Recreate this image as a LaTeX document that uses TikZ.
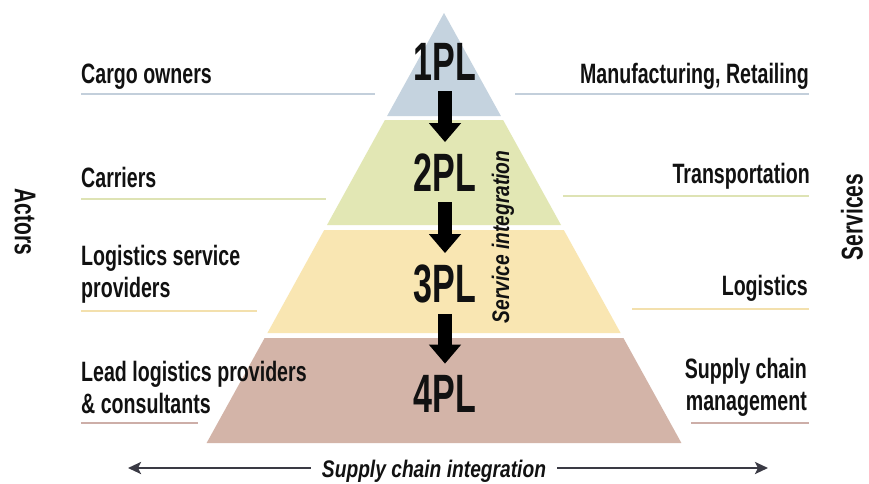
\documentclass[tikz,border=0pt]{standalone}
\usepackage{fontspec}
\setmainfont{Liberation Sans}
\newfontfamily\lblf[FakeStretch=0.70]{Liberation Sans}
\newfontfamily\plf[FakeStretch=0.63]{Liberation Sans}
\newfontfamily\itf[FakeStretch=0.80]{Liberation Sans}
\usetikzlibrary{arrows.meta}
\definecolor{cA}{RGB}{197,211,223}
\definecolor{cB}{RGB}{226,231,180}
\definecolor{cC}{RGB}{249,230,178}
\definecolor{cD}{RGB}{211,180,168}
\definecolor{uA}{RGB}{195,207,219}
\definecolor{uB}{RGB}{222,227,180}
\definecolor{uC}{RGB}{243,224,173}
\definecolor{uD}{RGB}{205,174,168}
\definecolor{ink}{RGB}{17,17,17}
\definecolor{arrgrey}{RGB}{58,58,68}
\tikzset{
  lbl/.style={inner sep=0pt, text=ink, font=\lblf\bfseries\fontsize{28}{32}\selectfont},
  lblL/.style={lbl, anchor=base west, align=left},
  lblR/.style={lbl, anchor=base east, align=right},
  plbl/.style={inner xsep=0pt, inner ysep=11pt, anchor=base, text=ink, font=\plf\bfseries\fontsize{54}{60}\selectfont},
  axis/.style={inner sep=0pt, text=ink, font=\lblf\bfseries\fontsize{30}{34}\selectfont},
  itlbl/.style={inner sep=0pt, text=ink, font=\itf\bfseries\itshape\fontsize{24}{28}\selectfont},
  block/.style={line width=14pt, draw=black, -{Triangle[width=31pt,length=19pt]}},
  intarrow/.style={line width=2.8pt, draw=arrgrey, -{Stealth[length=13pt,width=12pt,inset=3pt]}},
  uline/.style={line width=2.4pt}
}
\begin{document}
\begin{tikzpicture}[x=1pt,y=-1pt]
\useasboundingbox[fill=white] (0,0) rectangle (869,483);
% pyramid layers
\fill[cA] (444,13) -- (500.9,116) -- (387.1,116) -- cycle;
\fill[cB] (384.9,120) -- (503.1,120) -- (561.0,225) -- (327.0,225) -- cycle;
\fill[cC] (324.2,230) -- (563.8,230) -- (620.6,333) -- (267.4,333) -- cycle;
\fill[cD] (264.6,338) -- (623.4,338) -- (681.4,443) -- (206.6,443) -- cycle;
% level labels
\node[plbl] (pl1) at (445,80) {1PL};
\node[plbl] (pl2) at (445,191) {2PL};
\node[plbl] (pl3) at (445,302) {3PL};
\node[plbl] (pl4) at (445,412) {4PL};
\draw[block] (pl1.south) -- (pl2.north);
\draw[block] (pl2.south) -- (pl3.north);
\draw[block] (pl3.south) -- (pl4.north);
% service integration
\node[itlbl, rotate=90] (si) at (503,237) {Service integration};
% left labels (anchor at baseline of last line)
\node[lblL] (a1) at (81,83) {Cargo owners};
\node[lblL] (a2) at (81,187) {Carriers};
\node[lblL] (a3) at (81,297) {Logistics service\\providers};
\node[lblL] (a4) at (81,413) {Lead logistics providers\\\& consultants};
% right labels
\node[lblR] (s1) at (809,83) {Manufacturing, Retailing};
\node[lblR] (s2) at (810,183) {Transportation};
\node[lblR] (s3) at (808,295) {Logistics};
\node[lblR] (s4) at (807,410) {Supply chain\\management};
% underlines
\draw[uline, uA] (81,94) -- (375,94);
\draw[uline, uA] (515,94) -- (809,94);
\draw[uline, uB] (81,199) -- (326,199);
\draw[uline, uB] (563,196) -- (809,196);
\draw[uline, uC] (81,311) -- (257,311);
\draw[uline, uC] (632,309) -- (809,309);
\draw[uline, uD] (81,423) -- (198,423);
\draw[uline, uD] (691,423) -- (809,423);
% side titles
\node[axis, rotate=-90] (actors) at (25,222) {Actors};
\node[axis, rotate=90] (services) at (852,217) {Services};
% supply chain integration
\node[itlbl, anchor=base, inner xsep=11pt] (sci) at (434,477) {Supply chain integration};
\coordinate (la) at (128,468);
\coordinate (ra) at (768,468);
\draw[intarrow] (sci.west |- la) -- (la);
\draw[intarrow] (sci.east |- ra) -- (ra);
\end{tikzpicture}
\end{document}
